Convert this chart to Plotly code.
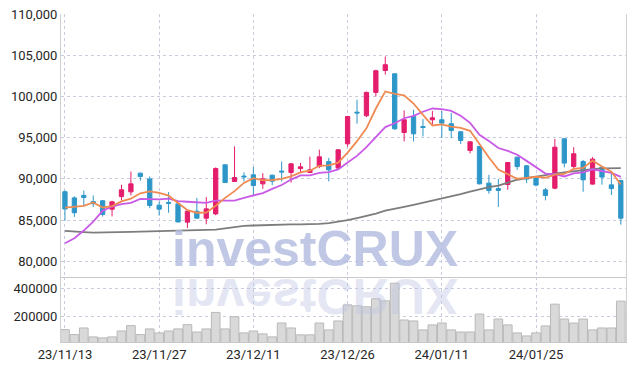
import plotly.graph_objects as go
from plotly.subplots import make_subplots

dates = ["23/11/13","23/11/14","23/11/15","23/11/16","23/11/17",
         "23/11/20","23/11/21","23/11/22","23/11/23","23/11/24",
         "23/11/27","23/11/28","23/11/29","23/11/30","23/12/01",
         "23/12/04","23/12/05","23/12/06","23/12/07","23/12/08",
         "23/12/11","23/12/12","23/12/13","23/12/14","23/12/15",
         "23/12/18","23/12/19","23/12/20","23/12/21","23/12/22",
         "23/12/26","23/12/27","23/12/28","24/01/02","24/01/03",
         "24/01/04","24/01/05","24/01/08","24/01/09","24/01/10",
         "24/01/11","24/01/12","24/01/15","24/01/16","24/01/17",
         "24/01/18","24/01/19","24/01/22","24/01/23","24/01/24",
         "24/01/25","24/01/26","24/01/29","24/01/30","24/01/31",
         "24/02/01","24/02/02","24/02/05","24/02/06","24/02/07"]

open_ = [88450,87700,88000,87250,87350,86330,87860,88430,90700,90000,
         86820,87150,86980,84760,86090,85240,85760,91710,89690,90350,
         90500,89400,90460,90950,90780,91260,90780,91500,92100,91310,
         94260,98100,97660,100490,103150,102750,95630,97570,96350,97170,
         97170,96700,95720,93450,93930,89490,88830,89320,92640,91590,
         90250,88680,88880,94870,91500,92110,89370,91430,89280,89800]
high = [88600,87900,88600,88000,87450,87350,89300,90900,90750,90300,
        87250,88400,87000,86150,87700,87800,91400,91750,93950,90800,
        91450,90700,90500,92100,91900,91950,92700,93550,92550,93600,
        97650,99600,100600,103250,104850,102800,98300,98400,97250,98250,
        98250,98000,95800,94550,94000,90500,90000,92050,92700,91700,
        90300,88900,94850,94900,93850,92300,92650,91500,90700,89900]
low = [84950,85400,86650,86600,85450,85450,87400,88000,89800,86450,
       85550,85900,84750,84050,85200,84500,85600,89500,89650,89700,
       88050,88800,89250,89700,89550,90700,90750,91300,89700,91200,
       93900,96700,97500,100000,102650,95950,94550,94550,95150,96550,
       94950,94950,94250,93100,89350,88200,86600,88700,91100,89500,
       89100,87400,88750,91400,91300,88450,89300,89300,88050,84450]
close = [86350,85900,87750,87000,85700,87220,88680,89400,90300,86780,
         86330,87050,84780,86090,85240,86370,91260,89560,90170,90250,
         89200,90010,89730,90850,91830,91470,91100,92680,91100,93530,
         97570,98000,100490,103120,103850,96080,97170,95470,96250,97410,
         96770,95870,94660,94500,89400,88590,88600,91990,91500,89980,
         89250,88000,93850,91920,93050,89890,92400,90220,88830,85240]

ma5 = [86530,86610,86730,87140,86540,86710,87270,87600,88260,88480,
       88300,87970,87050,86210,85900,85910,86750,87700,88520,89520,
       90090,89840,89870,90010,90320,90780,91000,91590,91640,91980,
       93200,94580,96140,98540,100610,100310,100140,99140,97760,96480,
       96610,96350,96190,95840,94240,92600,91150,90620,90020,90130,
       90260,90140,90520,90600,91210,91340,92220,91500,90880,89320]
ma10 = [82200,82800,83740,84830,86130,86650,86940,87100,87590,87510,
        87510,87620,87320,87230,87190,87100,87360,87380,87360,87710,
        88000,88290,88790,89260,89920,90430,90420,90730,90820,91150,
        91990,92790,93860,95090,96290,96750,97360,97640,98150,98540,
        98460,98250,97670,96800,95360,94610,93750,93400,92930,92190,
        91430,90650,90570,90300,90660,90790,91170,90990,90730,90250]
ma_long = [83700,83600,83550,83500,83500,83500,83550,83580,83600,83630,
           83650,83670,83700,83720,83740,83800,83860,84000,84150,84300,
           84350,84400,84450,84470,84480,84500,84510,84560,84650,84800,
           85000,85250,85500,85800,86150,86350,86600,86850,87100,87350,
           87650,87900,88150,88450,88750,89000,89200,89550,89900,90100,
           90300,90500,90650,90800,90950,91100,91200,91280,91300,91310]
volume = [104000,68000,116000,51000,44000,51000,94000,133000,68000,109000,
          80000,94000,109000,140000,87000,109000,229000,109000,198000,80000,
          94000,73000,51000,152000,116000,66000,66000,152000,102000,167000,
          284000,277000,270000,328000,313000,441000,174000,167000,102000,138000,
          152000,102000,87000,87000,217000,102000,181000,138000,80000,58000,
          80000,131000,289000,181000,152000,181000,102000,116000,116000,311000]

tick_dates = ["23/11/13","23/11/27","23/12/11","23/12/26","24/01/11","24/01/25"]
price_ticks = [80000,85000,90000,95000,100000,105000,110000]
volume_ticks = [200000,400000]

UP = "#E41D6C"
DOWN = "#2E97C9"
GRID = "#c9cbde"
FONT = "Roboto, Liberation Sans, sans-serif"
TICKFONT = dict(family=FONT, size=13, color="#262626")

fig = make_subplots(rows=2, cols=1, shared_xaxes=True, vertical_spacing=0,
                    row_heights=[0.802, 0.198])

fig.add_trace(go.Candlestick(
    x=dates, open=open_, high=high, low=low, close=close,
    increasing=dict(line=dict(color=UP, width=1), fillcolor=UP),
    decreasing=dict(line=dict(color=DOWN, width=1), fillcolor=DOWN),
    hoverinfo="skip", showlegend=False), row=1, col=1)

fig.add_trace(go.Scatter(x=dates, y=ma_long, mode="lines",
                         line=dict(color="#7d7d7d", width=1.8),
                         hoverinfo="skip", showlegend=False), row=1, col=1)
fig.add_trace(go.Scatter(x=dates, y=ma10, mode="lines",
                         line=dict(color="#C95AE6", width=1.8),
                         hoverinfo="skip", showlegend=False), row=1, col=1)
fig.add_trace(go.Scatter(x=dates, y=ma5, mode="lines",
                         line=dict(color="#EE8A52", width=1.8),
                         hoverinfo="skip", showlegend=False), row=1, col=1)

fig.add_trace(go.Bar(x=dates, y=volume, width=0.92,
                     marker=dict(color="#d9d9d9", line=dict(color="#b9b9b9", width=1)),
                     hoverinfo="skip", showlegend=False), row=2, col=1)

xcommon = dict(type="category", range=[-0.42, 59.55], showgrid=True,
               gridcolor=GRID, griddash="dot", gridwidth=1,
               tickmode="array", tickvals=tick_dates, ticktext=tick_dates,
               showline=True, linecolor="#c8c8c8", linewidth=1,
               ticks="", zeroline=False, fixedrange=True, automargin=False)
fig.update_xaxes(**xcommon)
fig.update_xaxes(showticklabels=False, rangeslider=dict(visible=False), row=1, col=1)
fig.update_xaxes(showticklabels=True, tickfont=TICKFONT, row=2, col=1)

fig.update_yaxes(range=[78100, 110000], tickvals=price_ticks, tickformat=",",
                 showgrid=True, gridcolor=GRID, griddash="dot", gridwidth=1,
                 showline=True, linecolor="#d0d0d0", mirror=True, ticks="",
                 zeroline=False, tickfont=TICKFONT, automargin=False,
                 row=1, col=1)
fig.update_yaxes(range=[14000, 486000], tickvals=volume_ticks, tickformat="d",
                 showgrid=True, gridcolor=GRID, griddash="dot", gridwidth=1,
                 showline=True, linecolor="#d0d0d0", mirror=True, ticks="",
                 zeroline=False, tickfont=TICKFONT, automargin=False,
                 row=2, col=1)

fig.add_annotation(text="investCRUX", xref="paper", yref="paper",
                   x=0.4496, y=0.283, xanchor="center", yanchor="middle",
                   showarrow=False, height=44,
                   font=dict(family="Liberation Sans, Arial, sans-serif", size=50,
                             color="rgba(176,186,222,0.8)", weight="bold"))
fig.add_annotation(text="investCRUX", xref="paper", yref="paper",
                   x=0.4496, y=0.140, xanchor="center", yanchor="middle",
                   showarrow=False, height=44,
                   font=dict(family="Liberation Sans, Arial, sans-serif", size=50,
                             color="rgba(190,196,226,0.42)", weight="bold"))

fig.update_layout(width=635, height=371,
                  margin=dict(l=61, r=9, t=14, b=29),
                  paper_bgcolor="white", plot_bgcolor="white",
                  boxgap=0.35, bargap=0.08, hovermode=False, showlegend=False)

post = """
document.body.style.margin = '0';
document.body.style.padding = '0';
var gd = document.getElementById('{plot_id}');
var anns = gd.querySelectorAll('g.annotation');
anns.forEach(function(a){
  if (a.getAttribute('data-index') === '1') {
    var t = a.querySelector('text');
    if (t) {
      t.style.transformBox = 'fill-box';
      t.style.transformOrigin = 'center';
      t.style.transform = 'scaleY(-1)';
    }
  }
});
"""
fig.write_html("out.html", config={"displayModeBar": False, "staticPlot": True},
               post_script=post)
